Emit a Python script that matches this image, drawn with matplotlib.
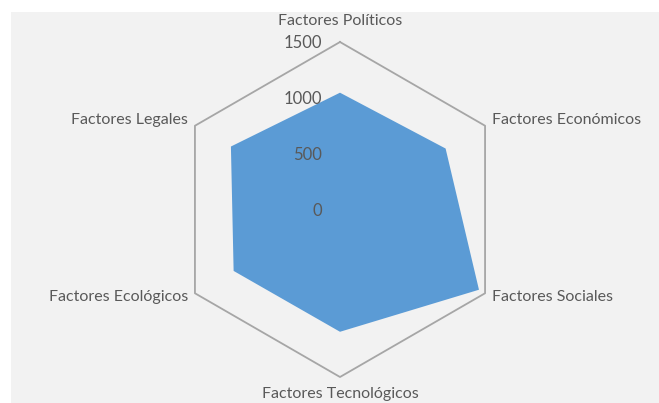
import numpy as np
import matplotlib
matplotlib.use("Agg")
import matplotlib.pyplot as plt
from matplotlib.patches import Rectangle

categories = ["Factores Políticos", "Factores Económicos", "Factores Sociales",
              "Factores Tecnológicos", "Factores Ecológicos", "Factores Legales"]
values = [1046, 1092, 1437, 1095, 1100, 1128]
ticks = [0, 500, 1000, 1500]
tick_labels = ["0", "500", "1000", "1500"]

plt.rcParams['font.family'] = ['Lato', 'DejaVu Sans']
W, H = 659, 403
fig = plt.figure(figsize=(W / 100, H / 100), dpi=100)
fig.patch.set_facecolor('white')
bg = Rectangle((11 / W, 0), (W - 11) / W, (H - 12) / H,
               transform=fig.transFigure, facecolor='#f2f2f2',
               edgecolor='none', zorder=-10)
fig.add_artist(bg)

cx, cy, R = 340, 209.5, 167.5
k = ticks[-1] / R
ax = fig.add_axes([0, 0, 1, 1], zorder=1)
ax.set_xlim(-cx * k, (W - cx) * k)
ax.set_ylim(-(H - cy) * k, cy * k)
ax.axis('off')
ax.patch.set_alpha(0)

n = len(categories)
ang = np.pi / 2 - np.arange(n) * 2 * np.pi / n
angc = np.append(ang, ang[0])

for t in ticks[1:]:
    ax.plot(t * np.cos(angc), t * np.sin(angc), color='#a6a6a6', lw=1.3, zorder=1)

v = np.array(values + [values[0]], dtype=float)
ax.fill(v * np.cos(angc), v * np.sin(angc), color='#5b9bd5', zorder=2, lw=0)

txtc = '#595959'
fs = 11.5
for t, lab in zip(ticks, tick_labels):
    ax.text(-18 * k, t - 1.5 * k, lab, ha='right', va='center', fontsize=12, color=txtc, zorder=3)

for i, (a, lab) in enumerate(zip(ang, categories)):
    c, s = np.cos(a), np.sin(a)
    if abs(c) < 1e-6:
        ha = 'center'
        x = 0
        y = (1500 + 20.5 * k) if s > 0 else -(1500 + 17 * k)
    else:
        ha = 'left' if c > 0 else 'right'
        x = 1500 * c + np.sign(c) * 7 * k
        y = 1500 * s + (6 * k if s > 0 else -4 * k)
    ax.text(x, y, lab, ha=ha, va='center', fontsize=fs, color=txtc, zorder=3)

fig.savefig('out.png', dpi=100, facecolor='white')
